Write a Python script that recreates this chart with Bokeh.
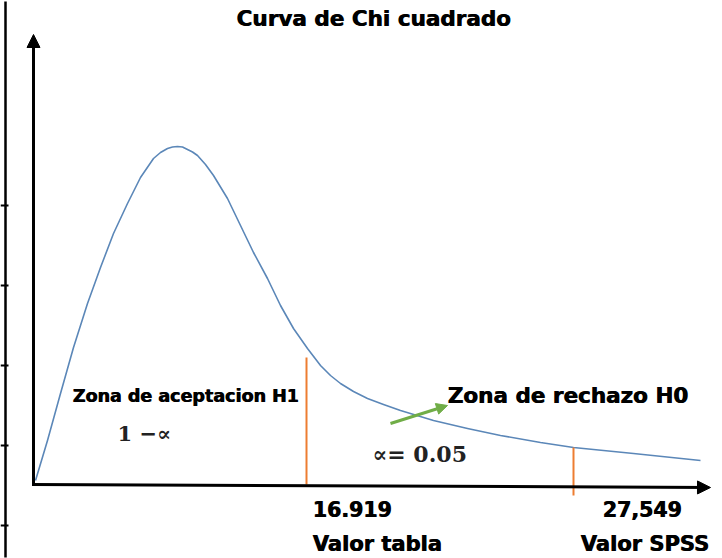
from bokeh.plotting import figure
from bokeh.models import Range1d, Arrow, NormalHead
from bokeh.core.properties import value
from bokeh.embed import file_html
from bokeh.resources import INLINE

# ---- data (diagram units: x to the right of the origin, y above the x axis) ----
curve_x = [2, 14, 27, 40, 54, 67, 80, 94, 107, 120, 127, 134, 139, 144, 149, 154, 159, 164, 172, 180,
           194, 207, 220, 234, 247, 260, 274, 287, 297, 307, 320, 334, 350, 367, 400, 434, 467, 507,
           540, 600, 667]
curve_y = [4, 44, 91, 137, 181, 217, 251, 281, 307, 326, 332, 336, 337.5, 338, 337.5, 335, 332.5, 329,
           320, 309, 286, 259, 232, 206, 179, 156, 136, 119, 109, 101, 93, 86, 80, 74, 64, 56, 49, 42,
           37, 31, 24]

crit_x = [273, 540]              # positions of "Valor tabla" and "Valor SPSS" markers
crit_top = [127, 37]             # where the marker lines meet the curve
crit_bottom = [0, -11]
crit_values = ["16.919", "27,549"]
crit_names = ["Valor tabla", "Valor SPSS"]

title = "Curva de Chi cuadrado"
accept_label = "Zona de aceptacion H1"
accept_prob = "1 \u2212\u221d"
reject_label = "Zona de rechazo H0"
alpha_label = "\u221d= 0.05"

# page border marks seen at the far left of the reference
border_ticks = [279, 199, 119, 39, -41]

FONT = "DejaVu Sans"
SERIF = "DejaVu Serif"

p = figure(width=722, height=558, output_backend="svg", toolbar_location=None,
           x_range=Range1d(-33, 689), y_range=Range1d(-74, 484),
           min_border=0, min_border_left=0, min_border_right=0,
           min_border_top=0, min_border_bottom=0)
p.axis.visible = False
p.grid.visible = False
p.outline_line_color = None
p.background_fill_color = "white"

# left page border
p.segment(x0=[-28], y0=[-73], x1=[-28], y1=[483], line_color="black", line_width=2.5)
p.segment(x0=[-33] * len(border_ticks), y0=border_ticks, x1=[-25] * len(border_ticks), y1=border_ticks,
          line_color="black", line_width=2)

# axes with arrows
p.add_layout(Arrow(end=NormalHead(size=13, fill_color="black", line_color="black"),
                   x_start=0, y_start=0, x_end=0, y_end=450,
                   line_color="black", line_width=3))
p.add_layout(Arrow(end=NormalHead(size=13, fill_color="black", line_color="black"),
                   x_start=-1.5, y_start=0, x_end=677, y_end=-3,
                   line_color="black", line_width=3))

# chi-square curve
p.line(curve_x, curve_y, line_color="#5B87B8", line_width=1.6, line_join="round")

# marker lines
p.segment(x0=crit_x, y0=crit_bottom, x1=crit_x, y1=crit_top,
          line_color="#ED7D31", line_width=2)

# green arrow
p.add_layout(Arrow(end=NormalHead(size=11, fill_color="#70AD47", line_color="#70AD47"),
                   x_start=357, y_start=61, x_end=414, y_end=79,
                   line_color="#70AD47", line_width=3))


def heavy_text(xs, ys, texts, size, align="left"):
    for dx in (0.0, 0.7):
        p.text(x=[x + dx for x in xs], y=ys, text=texts, text_font=value(FONT),
               text_font_style="bold", text_font_size=size, text_align=align,
               text_baseline="middle", text_color="black")


heavy_text([340], [466], [title], "21.5px", align="center")
heavy_text([39], [89], [accept_label], "17.5px")
heavy_text([414], [89], [reject_label], "21.5px")
heavy_text([crit_x[0] + 6, crit_x[1] + 29], [-24, -24], crit_values, "20.5px")
heavy_text([crit_x[0] + 6, crit_x[1] + 7], [-59, -59], crit_names, "21px")

p.text(x=[84], y=[51], text=[accept_prob], text_font=value(SERIF), text_font_style="bold",
       text_font_size="21px", text_align="left", text_baseline="middle", text_color="#222222")
p.text(x=[339], y=[31], text=[alpha_label], text_font=value(SERIF), text_font_style="bold",
       text_font_size="22px", text_align="left", text_baseline="middle", text_color="#222222")

open("out.html", "w").write(file_html(p, INLINE))
